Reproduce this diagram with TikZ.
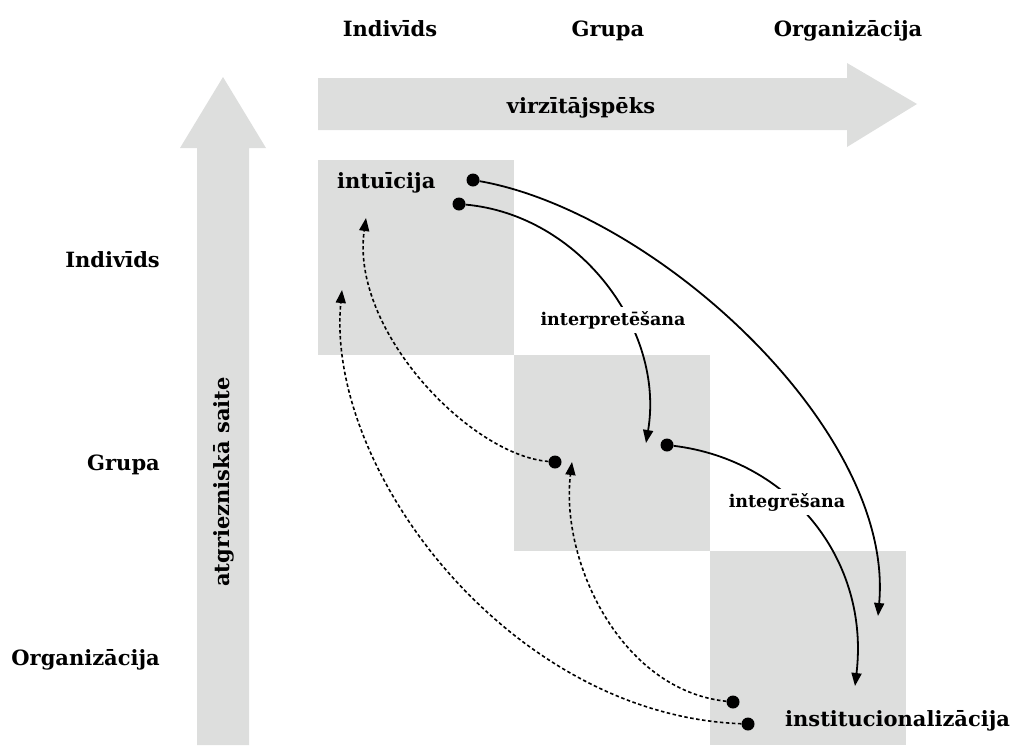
\documentclass[tikz,border=0pt]{standalone}
\usepackage{fontspec}
\setmainfont{DejaVu Serif}
\usetikzlibrary{arrows.meta}
\definecolor{panel}{RGB}{221,222,221}
\begin{document}
\begin{tikzpicture}[x=1pt,y=-1pt,
  lbl/.style={font=\bfseries\fontsize{21}{24}\selectfont, inner sep=0pt},
  steplbl/.style={font=\bfseries\fontsize{17.5}{20}\selectfont, fill=white, inner sep=4pt},
  dot/.style={circle, fill=black, minimum size=13pt, inner sep=0pt},
  flow/.style={line width=1.8pt, -{Triangle[length=13pt,width=10pt]}},
  back/.style={line width=1.6pt, dash pattern=on 3.5pt off 2.5pt, -{Triangle[length=13pt,width=10pt]}},
]
\useasboundingbox (0,0) rectangle (1018,745);
% diagonal of grey cells
\fill[panel] (318,160) rectangle (514,355);
\fill[panel] (514,355) rectangle (710,551);
\fill[panel] (710,551) rectangle (906,745);
% broad arrows
\fill[panel] (318,78) -- (847,78) -- (847,63) -- (917,104) -- (847,147) -- (847,130) -- (318,130) -- cycle;
\fill[panel] (197,745) -- (197,148) -- (180,148) -- (223,77) -- (266,148) -- (249,148) -- (249,745) -- cycle;
\node[lbl, anchor=base] (vz) at (581,113) {virzītājspēks};
\node[lbl, anchor=base, rotate=90] (fb) at (229,482) {atgriezniskā saite};
% column heads
\node[lbl, anchor=base] (cI) at (390,36) {Indivīds};
\node[lbl, anchor=base] (cG) at (608,36) {Grupa};
\node[lbl, anchor=base] (cO) at (848,36) {Organizācija};
% row heads
\node[lbl, anchor=base east] (rI) at (160,267) {Indivīds};
\node[lbl, anchor=base east] (rG) at (160,470) {Grupa};
\node[lbl, anchor=base east] (rO) at (160,665) {Organizācija};
% process stages
\node[lbl, anchor=base west] (intu) at (337,188) {intuīcija};
\node[lbl, anchor=base west] (inst) at (785,726) {institucionalizācija};
% dots and arrow ends
\node[dot] (d1) at (473,180) {};
\node[dot] (d2) at (459,204) {};
\node[dot] (d3) at (667,445) {};
\node[dot] (d4) at (555,462) {};
\node[dot] (d5) at (733,702) {};
\node[dot] (d6) at (748,724) {};
\coordinate (e1) at (878,616);
\coordinate (e2) at (646,443);
\coordinate (e3) at (855,686);
\coordinate (e4) at (366,218);
\coordinate (e5) at (572,462);
\coordinate (e6) at (342,290);
% forward flows
\draw[flow] (d1) .. controls (655,212) and (895,430) .. (e1);
\draw[flow] (d2) .. controls (580,215) and (665,330) .. (e2);
\draw[flow] (d3) .. controls (790,460) and (870,560) .. (e3);
% feedback flows
\draw[back] (d4) .. controls (470,455) and (350,330) .. (e4);
\draw[back] (d5) .. controls (620,690) and (560,560) .. (e5);
\draw[back] (d6) .. controls (510,715) and (325,470) .. (e6);
% stage labels on the flows
\node[steplbl, anchor=base] (interp) at (613,325) {interpretēšana};
\node[steplbl, anchor=base] (integ) at (787,507) {integrēšana};
\end{tikzpicture}
\end{document}
